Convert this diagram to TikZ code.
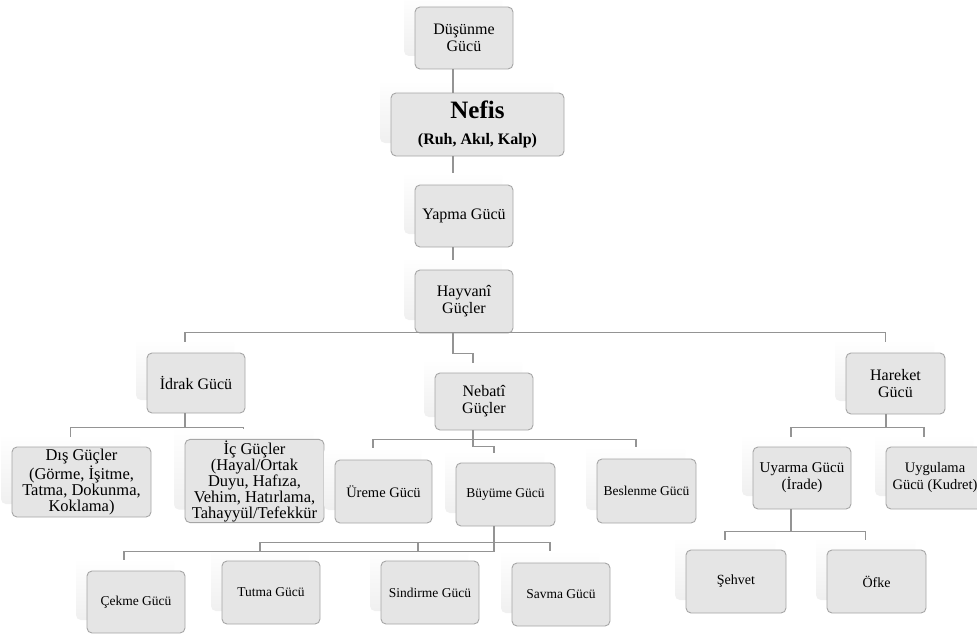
\documentclass[tikz,border=0pt]{standalone}
\usepackage{fontspec}
\setmainfont{Liberation Serif}
\usetikzlibrary{shadows,backgrounds}
\begin{document}
\begin{tikzpicture}[x=1pt,y=-1pt,
  box/.style={draw=black!35, fill=black!10, line width=0.9pt, rounded corners=5pt,
    align=center, inner sep=1pt,
    general shadow={shadow xshift=-11pt, shadow yshift=13pt, draw=none,
      top color=white, bottom color=black!6}},
  bw/.style={minimum width=98pt, minimum height=62pt},
  conn/.style={draw=black!42, line width=1.2pt},
  fa/.style={font=\fontsize{16}{17}\selectfont},
  fb/.style={font=\fontsize{16.5}{16}\selectfont},
  fc/.style={font=\fontsize{15}{17}\selectfont},
  fd/.style={font=\fontsize{13.5}{15}\selectfont}]
\useasboundingbox (0,0) rectangle (977,634);

% nodes
\node[box, bw, fa] (dus) at (464,38) {Düşünme\\Gücü};
\node[box, minimum width=173pt, minimum height=63pt, font=\fontsize{16}{20}\selectfont\bfseries] (nefis) at (477.5,124.5)
  {{\fontsize{25}{25}\selectfont Nefis}\\[6pt](Ruh, Akıl, Kalp)};
\node[box, bw, fa] (yapma) at (464,216) {Yapma Gücü};
\node[box, bw, minimum height=63pt, fa] (hay) at (464,301.5) {Hayvanî\\Güçler};
\node[box, bw, minimum height=60pt, fa] (idrak) at (196,383) {İdrak Gücü};
\node[box, bw, minimum height=57pt, fa] (nebt) at (484,401.5) {Nebatî\\Güçler};
\node[box, minimum width=99pt, minimum height=61pt, fa] (hare) at (895.5,383.5) {Hareket\\Gücü};
\node[box, minimum width=139pt, minimum height=70pt, fb] (dis) at (81.5,482) {Dış Güçler\\(Görme, İşitme,\\Tatma, Dokunma,\\Koklama)};
\node[box, minimum width=139pt, minimum height=71pt, fb] (ic) at (254.5,481) {İç Güçler\\(Hayal/Ortak\\Duyu, Hafıza,\\Vehim, Hatırlama,\\Tahayyül/Tefekkür};
\node[box, minimum width=97pt, minimum height=63pt, font=\fontsize{14.5}{16}\selectfont] (ureme) at (383.5,491.5) {Üreme Gücü};
\node[box, minimum width=99pt, minimum height=63pt, fd] (buy) at (505.5,494.5) {Büyüme Gücü};
\node[box, minimum width=99pt, minimum height=64pt, fd] (besl) at (646.5,491) {Beslenme Gücü};
\node[box, bw, fc] (uyar) at (802,478) {Uyarma Gücü\\(İrade)};
\node[box, bw, font=\fontsize{14.5}{17}\selectfont] (uyg) at (935,478) {Uygulama\\Gücü (Kudret)};
\node[box, bw, fd] (cekme) at (136,602) {Çekme Gücü};
\node[box, bw, minimum height=63pt, fd] (tutma) at (271,592.5) {Tutma Gücü};
\node[box, bw, minimum height=63pt, fd] (sind) at (430,592.5) {Sindirme Gücü};
\node[box, bw, minimum height=63pt, fd] (savma) at (561,594.5) {Savma Gücü};
\node[box, minimum width=100pt, minimum height=63pt, font=\fontsize{14}{16}\selectfont] (sehvet) at (736,581.5) {Şehvet};
\node[box, minimum width=99pt, minimum height=63pt, font=\fontsize{14}{16}\selectfont] (ofke) at (876.5,581.5) {Öfke};

\begin{pgfonlayer}{background}
\fill[white] (0,0) rectangle (977,634);
\end{pgfonlayer}

% connectors
\draw[conn] ([xshift=-11pt]dus.south) -- ([xshift=-11pt]dus.south |- nefis.north);
\draw[conn] ([xshift=-11pt]yapma.north |- nefis.south) -- ([xshift=-11pt,yshift=12pt]yapma.north);
\draw[conn] ([xshift=-11pt]yapma.south) -- ([xshift=-11pt,yshift=10pt]hay.north);
\draw[conn] ([xshift=-11pt]hay.south) -- ++(0,20) -| ([xshift=-11pt,yshift=10pt]nebt.north);
\draw[conn] ([xshift=-11pt,yshift=11pt]idrak.north) -- ++(0,-9) -| ([xshift=-10pt,yshift=11pt]hare.north);
% idrak
\draw[conn] ([xshift=-11pt]idrak.south) -- ++(0,14) -| ([xshift=-11pt,yshift=10pt]dis.north);
\draw[conn] ([xshift=-11pt]idrak.south) -- ++(0,14) -| ([xshift=-11pt,yshift=10pt]ic.north);
% nebati
\draw[conn] ([xshift=-11pt]nebt.south) -- ++(0,9) -| ([xshift=-10.5pt,yshift=12pt]ureme.north);
\draw[conn] ([xshift=-11pt]nebt.south) -- ++(0,9) -| ([xshift=-10.5pt,yshift=12pt]besl.north);
\draw[conn] ([xshift=-11pt]nebt.south) -- ++(0,16) -| ([xshift=-11.5pt,yshift=10pt]buy.north);
% buyume
\draw[conn] ([xshift=-11.5pt]buy.south) -- ++(0,25) -| ([xshift=-12pt,yshift=11pt]cekme.north);
\draw[conn] ([xshift=-11.5pt]buy.south) -- ++(0,16) -| ([xshift=-11pt,yshift=10pt]tutma.north);
\draw[conn] ([xshift=-11.5pt]buy.south) -- ++(0,16) -| ([xshift=-12pt,yshift=10pt]sind.north);
\draw[conn] ([xshift=-11.5pt]buy.south) -- ++(0,16) -| ([xshift=-11pt,yshift=12pt]savma.north);
% hareket
\draw[conn] ([xshift=-9.5pt]hare.south) -- ++(0,13) -| ([xshift=-11pt,yshift=10pt]uyar.north);
\draw[conn] ([xshift=-9.5pt]hare.south) -- ++(0,13) -| ([xshift=-11pt,yshift=10pt]uyg.north);
% uyarma
\draw[conn] ([xshift=-11pt]uyar.south) -- ++(0,22) -| ([xshift=-11pt,yshift=10pt]sehvet.north);
\draw[conn] ([xshift=-11pt]uyar.south) -- ++(0,22) -| ([xshift=-11pt,yshift=10pt]ofke.north);
\end{tikzpicture}
\end{document}
